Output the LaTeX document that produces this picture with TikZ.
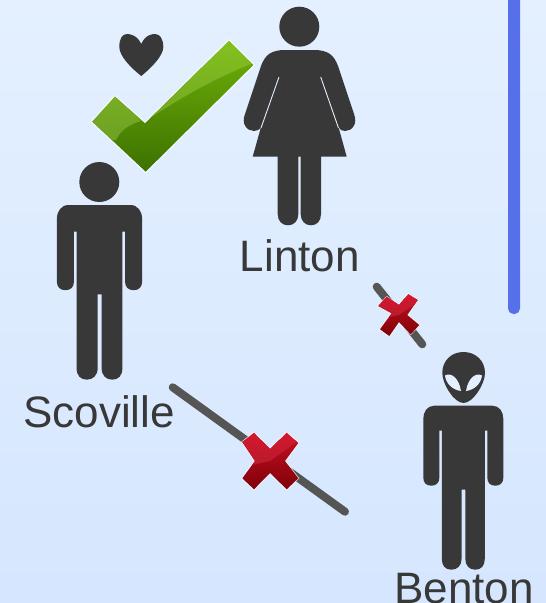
\documentclass[tikz,border=0pt]{standalone}
\usepackage{fontspec}
\setmainfont{Liberation Sans}
\definecolor{ink}{HTML}{383838}
\definecolor{bgtop}{HTML}{E4F0FF}
\definecolor{bgbot}{HTML}{D5E6FE}
\definecolor{barblue}{HTML}{5570E8}
\definecolor{slash}{HTML}{555555}
\definecolor{checkA}{HTML}{68A808}
\definecolor{checkB}{HTML}{3B7000}
\definecolor{glossA}{HTML}{84C21E}
\definecolor{glossB}{HTML}{6EA024}
\definecolor{redA}{HTML}{D8162E}
\definecolor{redB}{HTML}{B41C2C}
\definecolor{redC}{HTML}{BE0E1E}
\definecolor{redD}{HTML}{7C0008}
\tikzset{
  x=1pt,y=-1pt,
  figure/.style={fill=ink,draw=none},
  nametext/.style={text=ink,font=\fontsize{44}{44}\selectfont,anchor=base,inner sep=0pt},
  strike/.style={draw=slash,line width=8pt,line cap=round},
  gap/.style={draw=bgtop,line width=0.9pt},
  halo/.style={draw=white,line width=2.5pt,line join=miter,opacity=.75},
  man/.pic={
    \fill[figure] (-29,0) -- (29,0)
      .. controls (36,0) and (40,6) .. (40,13) -- (40,72)
      .. controls (40,77) and (37,80) .. (32,80)
      .. controls (27,80) and (24,77) .. (24,72) -- (24,25) -- (21.5,25) -- (21.5,153)
      .. controls (21.5,160) and (18,164) .. (12,164)
      .. controls (6,164) and (2,160) .. (2,153) -- (2,84) -- (-1.7,84) -- (-1.7,153)
      .. controls (-1.7,160) and (-6,164) .. (-12,164)
      .. controls (-18,164) and (-21.5,160) .. (-21.5,153) -- (-21.5,25) -- (-24,25) -- (-24,72)
      .. controls (-24,77) and (-27,80) .. (-32,80)
      .. controls (-37,80) and (-40,77) .. (-40,72) -- (-40,13)
      .. controls (-40,6) and (-36,0) .. (-29,0) -- cycle;
  }
}
\begin{document}
\begin{tikzpicture}
\useasboundingbox (0,0) rectangle (546,603);
\shade[top color=bgtop,bottom color=bgbot] (0,0) rectangle (546,603);

% blue bar
\begin{scope}
  \clip (0,0) rectangle (546,603);
  \fill[barblue,rounded corners=5.5pt] (508,-20) rectangle (520,314);
\end{scope}

% connectors
\coordinate (lintonEnd) at (376.7,286.7);
\coordinate (bentonEnd) at (422.3,344.3);
\coordinate (scovilleEnd) at (172.7,387.3);
\coordinate (bentonFar) at (345,511.7);
\draw[strike] (lintonEnd) -- (bentonEnd);
\draw[strike] (scovilleEnd) -- (bentonFar);

% Scoville
\fill[figure] (99.3,182) circle (20);
\pic[scale=1.065] at (99.5,205) {man};
\node[nametext] (scoville) at (99,427.3) {Scoville};

% Linton
\fill[figure] (299.3,26.7) circle (20);
\fill[figure] (285,50) -- (314,50)
  .. controls (328,50) and (334,55) .. (338,66) -- (354,114)
  .. controls (358,124) and (352,131) .. (345,131)
  .. controls (342,131) and (340,130) .. (338.5,127) -- (346.7,156.7) -- (321,156.7) -- (321,214)
  .. controls (321,221) and (317,225.3) .. (311,225.3)
  .. controls (305,225.3) and (300.7,221) .. (300.7,214) -- (300.7,156.7) -- (298.3,156.7) -- (298.3,214)
  .. controls (298.3,221) and (294,225.3) .. (288,225.3)
  .. controls (282,225.3) and (277.7,221) .. (277.7,214) -- (277.7,156.7) -- (252.7,156.7) -- (261,127)
  .. controls (259,130) and (257,131) .. (254,131)
  .. controls (247,131) and (241,124) .. (245,114) -- (261,66)
  .. controls (265,55) and (271,50) .. (285,50) -- cycle;
\draw[gap] (279,77) -- (261,128);
\draw[gap] (320.7,77) -- (338.5,128);
\node[nametext] (linton) at (299.8,271.3) {Linton};

% Benton
\fill[figure] (463.5,352)
  .. controls (475,352) and (485,360) .. (485,373)
  .. controls (485,384) and (473,403) .. (463.5,403)
  .. controls (454,403) and (442.3,384) .. (442.3,373)
  .. controls (442.3,360) and (452,352) .. (463.5,352) -- cycle;
\fill[bgtop] (445,375.5)
  .. controls (451,372) and (459,378) .. (461,391)
  .. controls (453,390) and (446,384) .. (445,375.5) -- cycle;
\fill[bgtop] (482,375.5)
  .. controls (476,372) and (468,378) .. (466,391)
  .. controls (474,390) and (481,384) .. (482,375.5) -- cycle;
\pic at (463.3,405.7) {man};
\node[nametext] (benton) at (464,603) {Benton};

% heart
\fill[figure] (141.3,44)
  .. controls (137,35) and (130,34) .. (127,34)
  .. controls (122,34) and (119.3,39) .. (119.3,47)
  .. controls (119.3,56) and (131,68) .. (141.3,76)
  .. controls (151,68) and (163.3,56) .. (163.3,47)
  .. controls (163.3,39) and (160,34) .. (155,34)
  .. controls (152,34) and (145,35) .. (141.3,44) -- cycle;

% check mark
\def\checkpath{(229,40.7) -- (253.3,65) -- (145.7,171.7) -- (92.3,121.7) -- (115,96.7) -- (145,123.3) -- cycle}
\draw[halo] \checkpath;
\begin{scope}
  \clip \checkpath;
  \shade[top color=checkA,bottom color=checkB] (85,60) rectangle (260,175);
  \shade[top color=glossA,bottom color=glossB] (85,38) -- (260,38) -- (256,62)
    .. controls (220,76) and (190,92) .. (150,118)
    .. controls (130,124) and (122,128) .. (116,140) -- (85,140) -- cycle;
\end{scope}

% large cross
\def\crossA{(242.3,442) -- (254,432.7) -- (270,449) -- (286.7,432.7) -- (298.3,443) -- (285,461) -- (298.3,478.3) -- (286.7,489.3) -- (270,473) -- (254,489.3) -- (242.3,478.3) -- (255,461) -- cycle}
\draw[halo,line width=1.6pt] \crossA;
\begin{scope}
  \clip \crossA;
  \shade[top color=redC,bottom color=redD] (238,440) rectangle (302,492);
  \shade[top color=redA,bottom color=redB] (238,430) -- (302,430) -- (302,438) -- (270,461) -- (238,468) -- cycle;
\end{scope}

% small cross
\def\crossB{(378.3,306) -- (386.7,296.7) -- (399,305) -- (408.3,294) -- (417.7,300) -- (407.3,315) -- (419.3,325) -- (410.7,334.3) -- (399,322) -- (389.3,336) -- (380,329.3) -- (391.7,313.3) -- cycle}
\draw[halo,line width=1.2pt] \crossB;
\begin{scope}
  \clip \crossB;
  \shade[top color=redC,bottom color=redD] (375,298) rectangle (423,338);
  \shade[top color=redA,bottom color=redB] (375,292) -- (423,292) -- (423,299) -- (399,315) -- (375,320) -- cycle;
\end{scope}
\end{tikzpicture}
\end{document}
